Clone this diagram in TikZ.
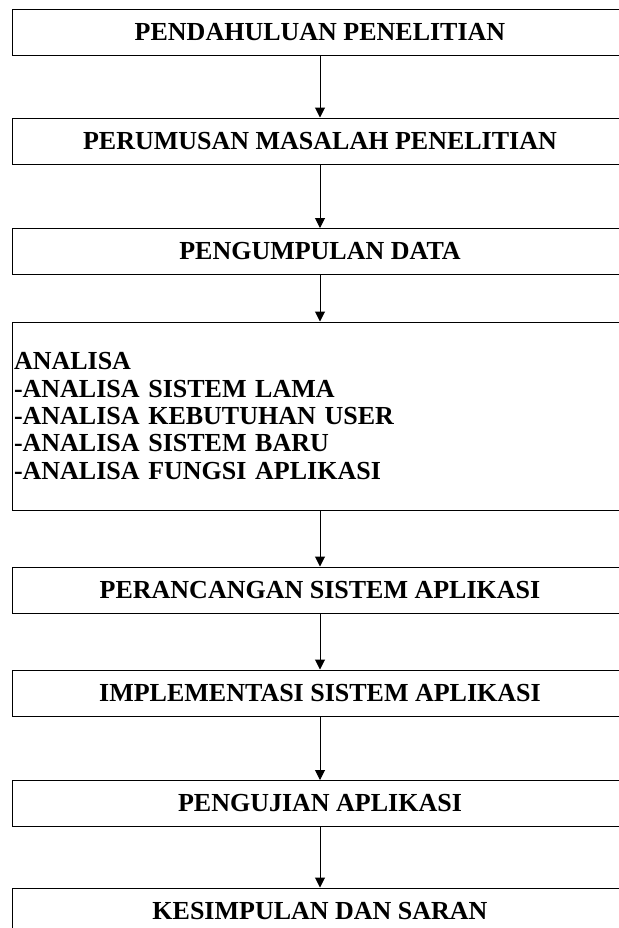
\documentclass[tikz,border=0pt]{standalone}
\usepackage{fontspec}
\setmainfont{Liberation Serif}
\usetikzlibrary{arrows.meta}
\begin{document}
\begin{tikzpicture}[auto,
    stage/.style ={draw, line width=0.5pt, minimum width=308pt, minimum height=23pt, inner sep=0pt,
                   font=\fontsize{13}{13.7}\selectfont\bfseries},
    flow/.style ={line width=0.5pt, -{Triangle[length=5pt,width=5pt]}}]
   \useasboundingbox (0,0) rectangle (309.5pt,-464pt);
   \node[stage] (pendahuluan) at (160pt,-16pt) {PENDAHULUAN PENELITIAN};
   \node[stage] (perumusan) at (160pt,-70.5pt) {PERUMUSAN MASALAH PENELITIAN};
   \node[stage] (pengumpulan) at (160pt,-125.75pt) {PENGUMPULAN DATA};
   \node[stage, minimum height=94pt, text width=306pt, inner xsep=1pt, align=left] (analisa) at (160pt,-208pt)
        {ANALISA\\-ANALISA SISTEM LAMA\\-ANALISA KEBUTUHAN USER\\-ANALISA SISTEM BARU\\-ANALISA FUNGSI APLIKASI};
   \node[stage] (perancangan) at (160pt,-295pt) {PERANCANGAN SISTEM APLIKASI};
   \node[stage] (implementasi) at (160pt,-346.5pt) {IMPLEMENTASI SISTEM APLIKASI};
   \node[stage] (pengujian) at (160pt,-401.75pt) {PENGUJIAN APLIKASI};
   \node[stage] (kesimpulan) at (160pt,-455.5pt) {KESIMPULAN DAN SARAN};

   \draw[flow] (pendahuluan) to (perumusan);
   \draw[flow] (perumusan) to (pengumpulan);
   \draw[flow] (pengumpulan) to (analisa);
   \draw[flow] (analisa) to (perancangan);
   \draw[flow] (perancangan) to (implementasi);
   \draw[flow] (implementasi) to (pengujian);
   \draw[flow] (pengujian) to (kesimpulan);
 \end{tikzpicture}
\end{document}
